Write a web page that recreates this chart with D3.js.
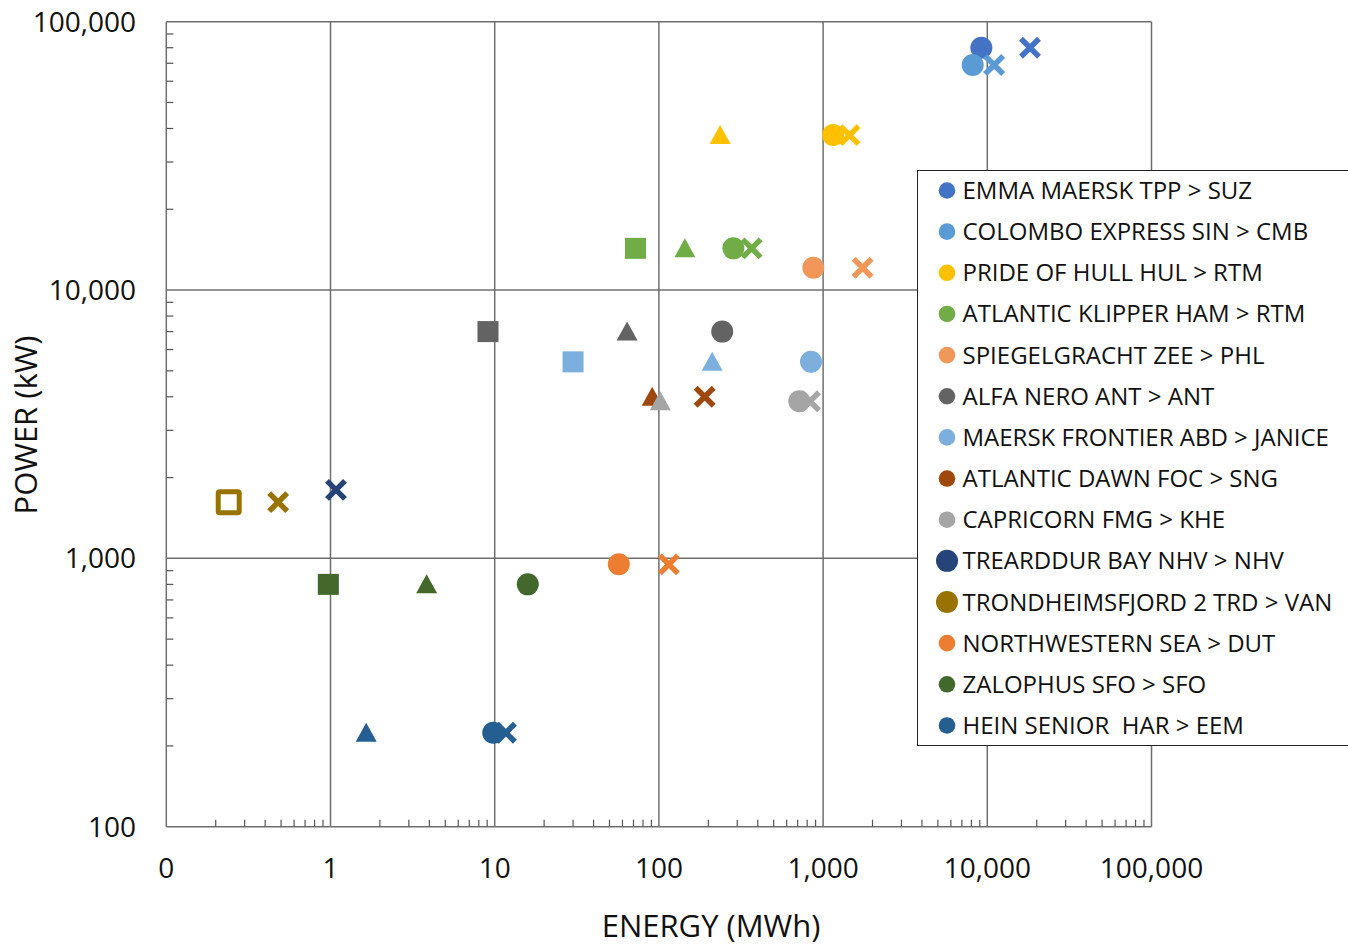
<!DOCTYPE html>
<meta charset="utf-8">
<style>
body { margin: 0; background: #fff; }
text { font-family: "Open Sans", sans-serif; fill: #111; }
.grid line { stroke: #6e6e6e; stroke-width: 1.5; }
.minor line { stroke: #555; stroke-width: 1.2; }
.legend text { white-space: pre; }
</style>
<svg width="1348" height="948"></svg>
<script src="https://cdn.jsdelivr.net/npm/d3@7"></script>
<script>

// ship routes (legend order)
var ships = [
  "EMMA MAERSK TPP > SUZ",
  "COLOMBO EXPRESS SIN > CMB",
  "PRIDE OF HULL HUL > RTM",
  "ATLANTIC KLIPPER HAM > RTM",
  "SPIEGELGRACHT ZEE > PHL",
  "ALFA NERO ANT > ANT",
  "MAERSK FRONTIER ABD > JANICE",
  "ATLANTIC DAWN FOC > SNG",
  "CAPRICORN FMG > KHE",
  "TREARDDUR BAY NHV > NHV",
  "TRONDHEIMSFJORD 2 TRD > VAN",
  "NORTHWESTERN SEA > DUT",
  "ZALOPHUS SFO > SFO",
  "HEIN SENIOR  HAR > EEM"
];
var colors = ["#4472C4", "#5B9BD5", "#FFC000", "#70AD47", "#F1975A", "#636363", "#7CAFDD",
              "#9E480E", "#A5A5A5", "#264478", "#997300", "#ED7D31", "#43682B", "#255E91"];

// power (kW), one per ship
var power = [80000, 69000, 37800, 14300, 12100, 7000, 5400, 4000, 3850, 1800, 1620, 950, 800, 224];

// energy (MWh) per marker type, null = no marker
var energySquare   = [null, null, null, 72, null, 9.1, 30, null, null, null, 0.24, null, 0.97, null];
var energyTriangle = [null, null, 236, 144, null, 64, 211, 91, 102, null, null, null, 3.85, 1.65];
var energyCircle   = [9200, 8150, 1150, 284, 872, 243, 844, null, 716, null, null, 57, 15.9, 9.8];
var energyCross    = [18200, 11000, 1450, 367, 1740, null, null, 190, 832, 1.08, 0.48, 115, null, 11.7];

var hollowSquare = [false, false, false, false, false, false, false, false, false, false, true, false, false, false];

var xTicks = [0.1, 1, 10, 100, 1000, 10000, 100000];
var xTickLabels = ["0", "1", "10", "100", "1,000", "10,000", "100,000"];
var yTicks = [100, 1000, 10000, 100000];
var yTickLabels = ["100", "1,000", "10,000", "100,000"];

var svg = d3.select("svg");

var x = d3.scaleLog().domain([0.1, 100000]).range([166.3, 1151.5]);
var y = d3.scaleLog().domain([100, 100000]).range([826.7, 21.7]);

function minors(lo, hi) {
  var out = [];
  for (var e = lo; e < hi; e++)
    for (var k = 2; k <= 9; k++) out.push(+(k * Math.pow(10, e)).toPrecision(3));
  return out;
}

// gridlines + frame
var grid = svg.append("g").attr("class", "grid");
grid.selectAll(".vx").data(xTicks).enter().append("line")
    .attr("x1", function(d) { return x(d); }).attr("x2", function(d) { return x(d); })
    .attr("y1", y(100000)).attr("y2", y(100));
grid.selectAll(".hy").data(yTicks).enter().append("line")
    .attr("y1", function(d) { return y(d); }).attr("y2", function(d) { return y(d); })
    .attr("x1", x(0.1)).attr("x2", x(100000));

// minor ticks (inside)
var minor = svg.append("g").attr("class", "minor");
minor.selectAll(".mx").data(minors(-1, 5)).enter().append("line")
    .attr("x1", function(d) { return x(d); }).attr("x2", function(d) { return x(d); })
    .attr("y1", y(100)).attr("y2", y(100) - 7);
minor.selectAll(".my").data(minors(2, 5)).enter().append("line")
    .attr("y1", function(d) { return y(d); }).attr("y2", function(d) { return y(d); })
    .attr("x1", x(0.1)).attr("x2", x(0.1) + 7);

// tick labels
svg.append("g").selectAll("text").data(xTicks).enter().append("text")
    .attr("x", function(d) { return x(d); })
    .attr("y", 878)
    .attr("text-anchor", "middle")
    .style("font-size", "28px")
    .text(function(d, i) { return xTickLabels[i]; });

svg.append("g").selectAll("text").data(yTicks).enter().append("text")
    .attr("x", 136)
    .attr("y", function(d) { return y(d) + 10; })
    .attr("text-anchor", "end")
    .style("font-size", "28px")
    .text(function(d, i) { return yTickLabels[i]; });

// axis titles
svg.append("text")
    .attr("x", 711).attr("y", 937)
    .attr("text-anchor", "middle")
    .style("font-size", "31px")
    .text("ENERGY (MWh)");

svg.append("text")
    .attr("transform", "translate(37,425) rotate(-90)")
    .attr("text-anchor", "middle")
    .style("font-size", "31px")
    .text("POWER (kW)");

// markers
var pts = svg.append("g");
var crossPath = "M-9,-9L9,9M-9,9L9,-9";
var triPath = "M0,-10L10.5,9L-10.5,9Z";

ships.forEach(function(name, i) {
  var py = y(power[i]);
  if (energySquare[i] != null) {
    if (hollowSquare[i]) {
      pts.append("rect")
          .attr("x", x(energySquare[i]) - 10.5).attr("y", py - 10.5)
          .attr("width", 21).attr("height", 21).attr("rx", 1.5)
          .attr("fill", "none").attr("stroke", colors[i]).attr("stroke-width", 5);
    } else {
      pts.append("rect")
          .attr("x", x(energySquare[i]) - 10.5).attr("y", py - 10.5)
          .attr("width", 21).attr("height", 21)
          .attr("fill", colors[i]);
    }
  }
  if (energyTriangle[i] != null) {
    pts.append("path")
        .attr("d", triPath)
        .attr("transform", "translate(" + x(energyTriangle[i]) + "," + py + ")")
        .attr("fill", colors[i]);
  }
  if (energyCircle[i] != null) {
    pts.append("circle")
        .attr("cx", x(energyCircle[i])).attr("cy", py).attr("r", 11)
        .attr("fill", colors[i]);
  }
  if (energyCross[i] != null) {
    pts.append("path")
        .attr("d", crossPath)
        .attr("transform", "translate(" + x(energyCross[i]) + "," + py + ")")
        .attr("fill", "none").attr("stroke", colors[i]).attr("stroke-width", 5.5);
  }
});

// legend
var legend = svg.append("g").attr("class", "legend").attr("transform", "translate(917.5,170.5)");
legend.append("rect")
    .attr("width", 440).attr("height", 575)
    .attr("fill", "#fff").attr("stroke", "#222").attr("stroke-width", 1);

var row = legend.selectAll(".item").data(ships).enter().append("g")
    .attr("transform", function(d, i) { return "translate(0," + (20 + i * 41.15) + ")"; });

row.append("circle")
    .attr("cx", 29.5).attr("cy", 0)
    .attr("r", function(d, i) { return (i === 9 || i === 10) ? 11 : 8.3; })
    .attr("fill", function(d, i) { return colors[i]; });

row.append("text")
    .attr("x", 45).attr("y", 8.5)
    .attr("xml:space", "preserve")
    .style("font-size", "24px")
    .text(function(d) { return d; });

</script>
